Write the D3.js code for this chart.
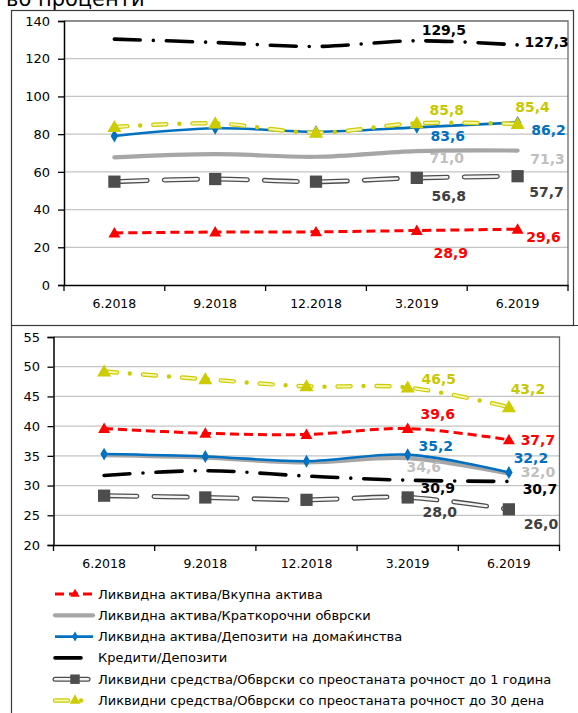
<!DOCTYPE html>
<html>
<head>
<meta charset="utf-8">
<script src="https://cdn.jsdelivr.net/npm/d3@7"></script>
<style>
  html, body { margin: 0; padding: 0; background: #fff; }
  svg { display: block; }
</style>
</head>
<body>
<script>
// Periods on the category axis
const periods = ["6.2018", "9.2018", "12.2018", "3.2019", "6.2019"];

// Series names (legend order = drawing order)
const seriesNames = [
  "Ликвидна актива/Вкупна актива",
  "Ликвидна актива/Краткорочни обврски",
  "Ликвидна актива/Депозити на домаќинства",
  "Кредити/Депозити",
  "Ликвидни средства/Обврски со преостаната рочност до 1 година",
  "Ликвидни средства/Обврски со преостаната рочност до 30 дена"
];

// Upper panel values, in percent
const upperRed    = [27.6, 28.1, 28.2, 28.9, 29.6];
const upperGray   = [67.7, 69.4, 68.0, 71.0, 71.3];
const upperBlue   = [79.0, 83.1, 81.3, 83.6, 86.2];
const upperBlack  = [130.4, 128.6, 126.5, 129.5, 127.3];
const upperDark   = [54.8, 56.2, 54.8, 56.8, 57.7];
const upperYellow = [83.8, 85.7, 80.8, 85.8, 85.4];
const upperTicks  = [0, 20, 40, 60, 80, 100, 120, 140];

// Lower panel values, in percent
const lowerRed    = [39.6, 38.8, 38.6, 39.6, 37.7];
const lowerGray   = [35.1, 34.7, 33.9, 34.6, 32.0];
const lowerBlue   = [35.3, 34.9, 34.1, 35.2, 32.2];
const lowerBlack  = [31.7, 32.5, 31.6, 30.9, 30.7];
const lowerDark   = [28.3, 28.0, 27.6, 28.0, 26.0];
const lowerYellow = [49.2, 47.9, 46.7, 46.5, 43.2];
const lowerTicks  = [20, 25, 30, 35, 40, 45, 50, 55];

// Only the last two periods carry value labels
const labelledIdx = [3, 4];

// ---------- styling ----------
const styles = [
  { key: "red",    color: "#FF0000", label: "#FF0000", kind: "dashed",   marker: "triangle", msize: 62 },
  { key: "gray",   color: "#A6A6A6", label: "#BFBFBF", kind: "solid4",   marker: null },
  { key: "blue",   color: "#0070C0", label: "#0070C0", kind: "solid",    marker: "diamond",  msize: 48 },
  { key: "black",  color: "#000000", label: "#000000", kind: "dashdot",  marker: null },
  { key: "dark",   color: "#4D4D4D", label: "#404040", kind: "double",   marker: "square",   msize: 150 },
  { key: "yellow", color: "#CCCC00", label: "#C8C800", kind: "double-dd", marker: "triangle", msize: 85 }
];

// label offsets (px) from the point, per series, for idx 3 and 4
const upperLabelOffsets = {
  red:    [[34, 22], [26, 8]],
  gray:   [[30, 7],  [30, 8]],
  blue:   [[31, 9],  [31, 8]],
  black:  [[27, -11],[29, -3]],
  dark:   [[32, 18], [29, 16]],
  yellow: [[30, -13],[15, -17]]
};
const lowerLabelOffsets = {
  red:    [[30, -15], [29, 0]],
  gray:   [[16, 9],   [29, -2]],
  blue:   [[28, -9],  [22, -14]],
  black:  [[30, 8],   [31, 8]],
  dark:   [[32, 15],  [32, 15]],
  yellow: [[31, -9],  [19, -18]]
};

const W = 578, H = 713;
const FONT = "'DejaVu Sans', Verdana, sans-serif";
const fmt = v => d3.format(".1f")(v).replace(".", ",");

const svg = d3.select("body").append("svg")
  .attr("width", W).attr("height", H)
  .style("font-family", FONT);

// Heading (partially above the page edge)
svg.append("text")
  .attr("x", 6).attr("y", 5.5)
  .attr("font-size", 21)
  .attr("fill", "#000")
  .text("во проценти");

// Outer frames
svg.append("rect")
  .attr("x", 11.5).attr("y", 10.5).attr("width", 562).attr("height", 315)
  .attr("fill", "none").attr("stroke", "#3a3a3a").attr("stroke-width", 1.2);
svg.append("path")
  .attr("d", "M11.5,713 V325.5 H580")
  .attr("fill", "none").attr("stroke", "#3a3a3a").attr("stroke-width", 1.2);

function markerPath(type, size) {
  const t = type === "triangle" ? d3.symbolTriangle
          : type === "diamond" ? d3.symbolDiamond : d3.symbolSquare;
  return d3.symbol().type(t).size(size)();
}

// Draw a styled polyline path into group g
function drawStyledLine(g, d, st) {
  if (st.kind === "dashed") {
    g.append("path").attr("d", d).attr("fill", "none")
      .attr("stroke", st.color).attr("stroke-width", 3)
      .attr("stroke-dasharray", "9,5");
  } else if (st.kind === "solid4") {
    g.append("path").attr("d", d).attr("fill", "none")
      .attr("stroke", st.color).attr("stroke-width", 4.2)
      .attr("stroke-linecap", "round");
  } else if (st.kind === "solid") {
    g.append("path").attr("d", d).attr("fill", "none")
      .attr("stroke", st.color).attr("stroke-width", 2.6);
  } else if (st.kind === "dashdot") {
    g.append("path").attr("d", d).attr("fill", "none")
      .attr("stroke", st.color).attr("stroke-width", 3.6)
      .attr("stroke-linecap", "round")
      .attr("stroke-dasharray", "26,13,0,13");
  } else if (st.kind === "double") {
    g.append("path").attr("d", d).attr("fill", "none")
      .attr("stroke", st.color).attr("stroke-width", 5)
      .attr("stroke-linecap", "round")
      .attr("stroke-dasharray", "33,17");
    g.append("path").attr("d", d).attr("fill", "none")
      .attr("stroke", "#F4F4F4").attr("stroke-width", 2.4)
      .attr("stroke-linecap", "round")
      .attr("stroke-dasharray", "33,17");
  } else if (st.kind === "double-dd") {
    g.append("path").attr("d", d).attr("fill", "none")
      .attr("stroke", st.color).attr("stroke-width", 4.4)
      .attr("stroke-linecap", "round")
      .attr("stroke-dasharray", "13,13,0,13");
    g.append("path").attr("d", d).attr("fill", "none")
      .attr("stroke", "#F6F6B0").attr("stroke-width", 2)
      .attr("stroke-linecap", "round")
      .attr("stroke-dasharray", "13,26");
  }
}

function drawPanel(cfg) {
  const x = d3.scaleBand().domain(periods).range([cfg.left, cfg.right]).padding(0);
  const y = d3.scaleLinear().domain(cfg.domain).range([cfg.bottom, cfg.top]);
  const cx = p => x(p) + x.bandwidth() / 2;
  const g = svg.append("g");

  // gridlines
  g.append("g").selectAll("line").data(cfg.ticks.slice(1, -1)).join("line")
    .attr("x1", cfg.left).attr("x2", cfg.right)
    .attr("y1", d => y(d)).attr("y2", d => y(d))
    .attr("stroke", "#C4C4C4").attr("stroke-width", 1.3);

  // plot-area border on top and right
  g.append("path")
    .attr("d", `M${cfg.left},${cfg.top} H${cfg.right} V${cfg.bottom}`)
    .attr("fill", "none").attr("stroke", "#6b6b6b").attr("stroke-width", 1.3);

  // y axis
  const ya = g.append("g").attr("transform", `translate(${cfg.left},0)`)
    .call(d3.axisLeft(y).tickValues(cfg.ticks).tickSize(6).tickPadding(cfg.yPad));
  ya.select(".domain").attr("stroke", "#000").attr("stroke-width", 1.5);
  ya.selectAll(".tick line").attr("stroke", "#000").attr("stroke-width", 1.3);
  ya.selectAll("text").attr("font-size", 13).attr("font-family", FONT).attr("fill", "#000");

  // x axis with labels centred in bands, ticks on band boundaries
  const xa = g.append("g").attr("transform", `translate(0,${cfg.bottom})`)
    .call(d3.axisBottom(x).tickSize(0).tickPadding(cfg.xPad));
  xa.select(".domain").attr("stroke", "#000").attr("stroke-width", 1.5);
  xa.selectAll("text").attr("font-size", 12.5).attr("font-family", FONT).attr("fill", "#000");
  const bounds = periods.map(p => x(p)).concat([x(periods[periods.length - 1]) + x.bandwidth()]);
  g.append("g").selectAll("line").data(bounds).join("line")
    .attr("x1", d => d).attr("x2", d => d)
    .attr("y1", cfg.bottom).attr("y2", cfg.bottom + 6)
    .attr("stroke", "#000").attr("stroke-width", 1.3);

  const line = d3.line()
    .x((d, i) => cx(periods[i]))
    .y(d => y(d))
    .curve(d3.curveCatmullRom.alpha(0.5));

  cfg.series.forEach((vals, si) => {
    const st = styles[si];
    const sg = g.append("g");
    drawStyledLine(sg, line(vals), st);
    if (st.marker) {
      sg.selectAll("path.mk").data(vals).join("path")
        .attr("class", "mk")
        .attr("d", markerPath(st.marker, st.msize))
        .attr("transform", (d, i) => `translate(${cx(periods[i])},${y(d) + (st.marker === "triangle" ? 1 : 0)})`)
        .attr("fill", st.color);
    }
  });

  // value labels
  cfg.series.forEach((vals, si) => {
    const st = styles[si];
    const offs = cfg.offsets[st.key];
    labelledIdx.forEach((idx, k) => {
      g.append("text")
        .attr("x", cx(periods[idx]) + offs[k][0])
        .attr("y", y(vals[idx]) + offs[k][1])
        .attr("text-anchor", "middle")
        .attr("dominant-baseline", "central")
        .attr("font-size", 14)
        .attr("font-weight", "bold")
        .attr("fill", st.label)
        .text(fmt(vals[idx]));
    });
  });
}

drawPanel({
  left: 64, right: 568, top: 21, bottom: 285,
  domain: [0, 140], ticks: upperTicks, yPad: 8, xPad: 14,
  series: [upperRed, upperGray, upperBlue, upperBlack, upperDark, upperYellow],
  offsets: upperLabelOffsets
});

drawPanel({
  left: 53.5, right: 559.5, top: 337, bottom: 545,
  domain: [20, 55], ticks: lowerTicks, yPad: 7.5, xPad: 14,
  series: [lowerRed, lowerGray, lowerBlue, lowerBlack, lowerDark, lowerYellow],
  offsets: lowerLabelOffsets
});

// Legend
const legend = svg.append("g");
const legY0 = 594, legStep = 21.3;
seriesNames.forEach((name, i) => {
  const st = styles[i];
  const yy = legY0 + i * legStep;
  const lg = legend.append("g");
  const x1 = 55, x2 = st.key === "black" ? 84 : 93;
  drawStyledLine(lg, `M${x1},${yy} H${x2}`, st);
  if (st.marker) {
    lg.append("path")
      .attr("d", markerPath(st.marker, st.msize * 0.6))
      .attr("transform", `translate(75,${yy})`)
      .attr("fill", st.color);
  }
  legend.append("text")
    .attr("x", 98).attr("y", yy)
    .attr("dominant-baseline", "central")
    .attr("font-size", 13)
    .attr("fill", "#000")
    .text(name);
});
</script>
</body>
</html>
